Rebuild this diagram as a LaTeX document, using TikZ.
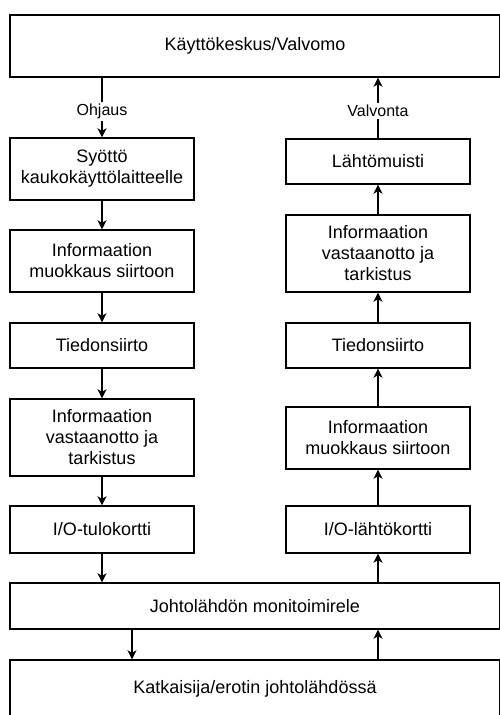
\documentclass[tikz,border=0pt]{standalone}
\usepackage{fontspec}
\setmainfont{Liberation Sans}
\usetikzlibrary{arrows.meta,positioning,calc}

\begin{document}
\begin{tikzpicture}[
    x=1pt, y=-1pt,
    font=\fontsize{18}{21}\selectfont,
    box/.style={draw, line width=1.4pt, align=center, inner sep=2pt},
    colbox/.style={box, minimum width=184pt},
    widebox/.style={box, minimum width=490pt},
    lbl/.style={font=\fontsize{16}{19}\selectfont, fill=white, inner sep=2pt},
    arrow/.style={-{Stealth[length=9pt,width=9pt,inset=2.5pt]}, line width=1.4pt},
  ]
    \useasboundingbox (0,0) rectangle (500,715);

    % ---- ylin ----
    \node[widebox, minimum height=62pt] (kesk) at (255,46) {Käyttökeskus/Valvomo};

    % ---- ohjaus (vasen) ----
    \node[colbox, minimum height=62pt] (syotto) at (102,169) {Syöttö\\kaukokäyttölaitteelle};
    \node[colbox, minimum height=62pt] (muokkL) at (102,261) {Informaation\\muokkaus siirtoon};
    \node[colbox, minimum height=45pt] (siirtoL) at (102,345.5) {Tiedonsiirto};
    \node[colbox, minimum height=77pt] (vastL) at (102,437.5) {Informaation\\vastaanotto ja\\tarkistus};
    \node[colbox, minimum height=47pt] (tulo) at (102,529.5) {I/O-tulokortti};

    % ---- valvonta (oikea) ----
    \node[colbox, minimum height=45pt] (lahtom) at (378,161.5) {Lähtömuisti};
    \node[colbox, minimum height=77pt] (vastR) at (378,253.5) {Informaation\\vastaanotto ja\\tarkistus};
    \node[colbox, minimum height=45pt] (siirtoR) at (378,345.5) {Tiedonsiirto};
    \node[colbox, minimum height=62pt] (muokkR) at (378,438) {Informaation\\muokkaus siirtoon};
    \node[colbox, minimum height=47pt] (lahtok) at (378,529.5) {I/O-lähtökortti};

    % ---- alin ----
    \node[widebox, minimum height=46pt] (rele) at (255,606) {Johtolähdön monitoimirele};
    \node[widebox, minimum height=84pt, text depth=30pt] (katk) at (255,702) {Katkaisija/erotin johtolähdössä};

    % ---- nuolet ----
    \draw[arrow] (kesk.south -| syotto) -- node[lbl, pos=0.57] {Ohjaus} (syotto);
    \draw[arrow] (syotto) -- (muokkL);
    \draw[arrow] (muokkL) -- (siirtoL);
    \draw[arrow] (siirtoL) -- (vastL);
    \draw[arrow] (vastL) -- (tulo);
    \draw[arrow] (tulo) -- (rele.north -| tulo);

    \draw[arrow] (rele.north -| lahtok) -- (lahtok);
    \draw[arrow] (lahtok) -- (muokkR);
    \draw[arrow] (muokkR) -- (siirtoR);
    \draw[arrow] (siirtoR) -- (vastR);
    \draw[arrow] (vastR) -- (lahtom);
    \draw[arrow] (lahtom) -- node[lbl, pos=0.45] {Valvonta} (kesk.south -| lahtom);

    \draw[arrow] ([xshift=-123pt]rele.south) -- ([xshift=-123pt]katk.north);
    \draw[arrow] (katk.north -| lahtok) -- (rele.south -| lahtok);
  \end{tikzpicture}
\end{document}
